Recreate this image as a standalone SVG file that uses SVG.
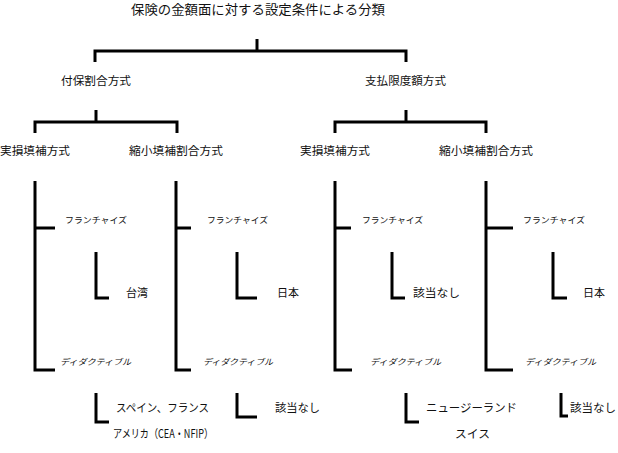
<svg xmlns="http://www.w3.org/2000/svg" width="618" height="453" viewBox="0 0 618 453">
<style>
.bg{fill:#ffffff}
.ln{fill:none;stroke:#000;stroke-width:3;stroke-linejoin:miter;stroke-linecap:butt}
.t{font-family:"Noto Sans CJK JP","Liberation Sans",sans-serif;fill:#111;font-size:11.5px}
.h{font-size:13px}
.s{font-size:8.5px}
.i{font-size:8.5px;font-style:italic}
</style>
<rect class="bg" x="0" y="0" width="618" height="453"/>
<g id="connectors">
  <polyline class="ln" points="257,39 257,51"/>
  <polyline class="ln" points="95,62 95,51 406,51 406,62"/>
  <polyline class="ln" points="96,110 96,122"/>
  <polyline class="ln" points="35,133 35,122 177,122 177,133"/>
  <polyline class="ln" points="406,110 406,122"/>
  <polyline class="ln" points="335,133 335,122 486,122 486,133"/>
  <polyline class="ln" points="35,181 35,370 55,370"/>
  <polyline class="ln" points="35,228 55,228"/>
  <polyline class="ln" points="176,181 176,370 191,370"/>
  <polyline class="ln" points="176,228 191,228"/>
  <polyline class="ln" points="335,181 335,370 352,370"/>
  <polyline class="ln" points="335,228 351,228"/>
  <polyline class="ln" points="486,181 486,370 513,370"/>
  <polyline class="ln" points="486,228 513,228"/>
  <polyline class="ln" points="96,252 96,298 109,298"/>
  <polyline class="ln" points="237,252 237,298 257,298"/>
  <polyline class="ln" points="392,252 392,298 405,298"/>
  <polyline class="ln" points="553,252 553,298 567,298"/>
  <polyline class="ln" points="96,393 96,422 109,422"/>
  <polyline class="ln" points="237,393 237,417 257,417"/>
  <polyline class="ln" points="406,393 406,422 419,422"/>
  <polyline class="ln" points="561,393 561,416 568,416"/>
</g>
<g id="root"><text class="t h" x="131" y="13.5" textLength="254" lengthAdjust="spacingAndGlyphs">保険の金額面に対する設定条件による分類</text></g>
<g id="fuho"><text class="t" x="61" y="84.5" textLength="70" lengthAdjust="spacingAndGlyphs">付保割合方式</text></g>
<g id="shiharai"><text class="t" x="365" y="84.5" textLength="81" lengthAdjust="spacingAndGlyphs">支払限度額方式</text></g>
<g id="jisson1"><text class="t" x="0" y="154.5" textLength="70" lengthAdjust="spacingAndGlyphs">実損填補方式</text></g>
<g id="shukusho1"><text class="t" x="129" y="154.5" textLength="94" lengthAdjust="spacingAndGlyphs">縮小填補割合方式</text></g>
<g id="jisson2"><text class="t" x="300" y="154.5" textLength="70" lengthAdjust="spacingAndGlyphs">実損填補方式</text></g>
<g id="shukusho2"><text class="t" x="439" y="154.5" textLength="94" lengthAdjust="spacingAndGlyphs">縮小填補割合方式</text></g>
<g id="fr1"><text class="t s" x="65" y="223" textLength="62" lengthAdjust="spacingAndGlyphs">フランチャイズ</text></g>
<g id="fr2"><text class="t s" x="207" y="223" textLength="61" lengthAdjust="spacingAndGlyphs">フランチャイズ</text></g>
<g id="fr3"><text class="t s" x="362" y="223" textLength="61" lengthAdjust="spacingAndGlyphs">フランチャイズ</text></g>
<g id="fr4"><text class="t s" x="523" y="223" textLength="62" lengthAdjust="spacingAndGlyphs">フランチャイズ</text></g>
<g id="fr1v"><text class="t" x="126" y="296.5" textLength="22" lengthAdjust="spacingAndGlyphs">台湾</text></g>
<g id="fr2v"><text class="t" x="277" y="296.5" textLength="22" lengthAdjust="spacingAndGlyphs">日本</text></g>
<g id="fr3v"><text class="t" x="413" y="296.5" textLength="47" lengthAdjust="spacingAndGlyphs">該当なし</text></g>
<g id="fr4v"><text class="t" x="583" y="296.5" textLength="22" lengthAdjust="spacingAndGlyphs">日本</text></g>
<g id="de1"><text class="t i" x="60" y="365" textLength="71" lengthAdjust="spacingAndGlyphs">ディダクティブル</text></g>
<g id="de2"><text class="t i" x="203" y="365" textLength="70" lengthAdjust="spacingAndGlyphs">ディダクティブル</text></g>
<g id="de3"><text class="t i" x="370" y="365" textLength="71" lengthAdjust="spacingAndGlyphs">ディダクティブル</text></g>
<g id="de4"><text class="t i" x="525" y="365" textLength="71" lengthAdjust="spacingAndGlyphs">ディダクティブル</text></g>
<g id="de1v">
  <text class="t" x="116" y="412" textLength="93" lengthAdjust="spacingAndGlyphs">スペイン、フランス</text>
  <text class="t" x="113" y="438" textLength="100" lengthAdjust="spacingAndGlyphs">アメリカ（CEA・NFIP）</text>
</g>
<g id="de2v"><text class="t" x="275" y="411.5" textLength="45" lengthAdjust="spacingAndGlyphs">該当なし</text></g>
<g id="de3v">
  <text class="t" x="426" y="411.5" textLength="91" lengthAdjust="spacingAndGlyphs">ニュージーランド</text>
  <text class="t" x="455" y="438" textLength="35" lengthAdjust="spacingAndGlyphs">スイス</text>
</g>
<g id="de4v"><text class="t" x="570" y="411.5" textLength="46" lengthAdjust="spacingAndGlyphs">該当なし</text></g>
</svg>
